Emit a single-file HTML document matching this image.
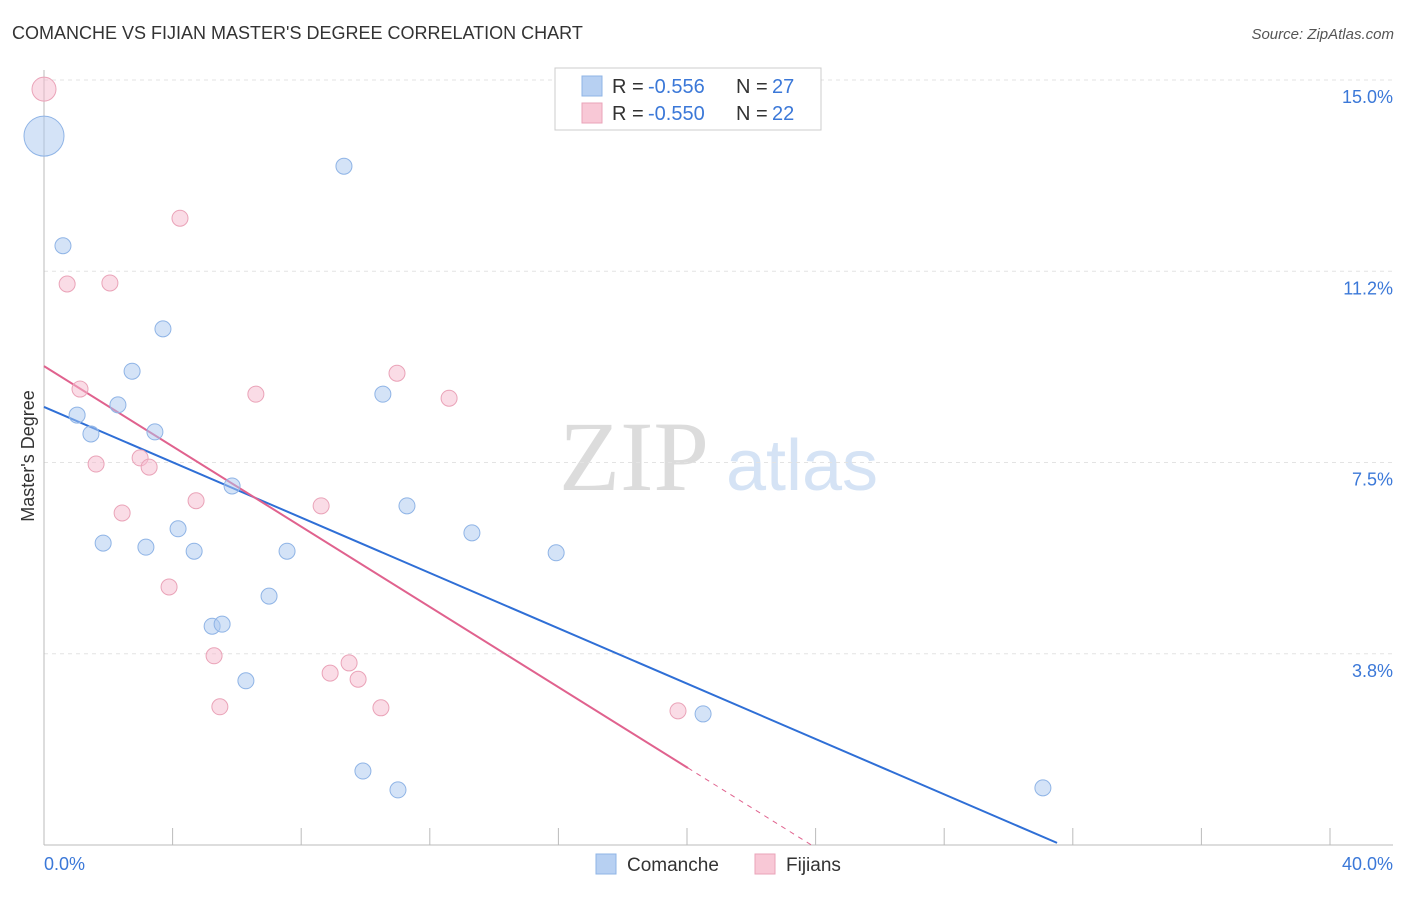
<!DOCTYPE html>
<html><head><meta charset="utf-8"><style>
body{margin:0;background:#fff;font-family:"Liberation Sans",sans-serif;}
</style></head><body>
<svg id="chart" width="1406" height="892" font-family="Liberation Sans, sans-serif">
<text x="12" y="39" font-size="18" fill="#333">COMANCHE VS FIJIAN MASTER'S DEGREE CORRELATION CHART</text>
<text x="1394" y="39" font-size="15" fill="#555" font-style="italic" text-anchor="end">Source: ZipAtlas.com</text>
<g>
<text x="634" y="490" font-size="100" fill="#dcdcdc" style="font-family:'Liberation Serif',serif" text-anchor="middle">ZIP</text>
<text x="802" y="490" font-size="72" fill="#d5e3f5" text-anchor="middle">atlas</text>
</g>
<g id="grid"></g>
<g id="axes"></g>
<g id="lines"></g>
<g id="points"></g>
<text transform="translate(34,456) rotate(-90)" font-size="18" fill="#333" text-anchor="middle">Master's Degree</text>
<text x="44" y="870" font-size="18" fill="#3b78d8">0.0%</text>
<text x="1393" y="870" font-size="18" fill="#3b78d8" text-anchor="end">40.0%</text>
<g>
<rect x="555" y="68" width="266" height="62" fill="#fff" stroke="#ccc"/>
<rect x="582" y="76" width="20" height="20" fill="#b7d0f2" stroke="#8fb4e6"/>
<text x="612" y="93" font-size="20" fill="#333">R = </text>
<text x="648" y="93" font-size="20" fill="#3b78d8">-0.556</text>
<text x="736" y="93" font-size="20" fill="#333">N = </text>
<text x="772" y="93" font-size="20" fill="#3b78d8">27</text>
<rect x="582" y="103" width="20" height="20" fill="#f8c8d6" stroke="#eaa3b8"/>
<text x="612" y="120" font-size="20" fill="#333">R = </text>
<text x="648" y="120" font-size="20" fill="#3b78d8">-0.550</text>
<text x="736" y="120" font-size="20" fill="#333">N = </text>
<text x="772" y="120" font-size="20" fill="#3b78d8">22</text>
</g>
<g>
<rect x="596" y="854" width="20" height="20" fill="#b7d0f2" stroke="#8fb4e6"/>
<text x="627" y="871" font-size="19" fill="#333">Comanche</text>
<rect x="755" y="854" width="20" height="20" fill="#f8c8d6" stroke="#eaa3b8"/>
<text x="786" y="871" font-size="19" fill="#333">Fijians</text>
</g>
</svg>
<script>
const yTicks=[3.75,7.5,11.25,15];
const yTickLabels=["3.8%","7.5%","11.2%","15.0%"];
const xTicks=[4,8,12,16,20,24,28,32,36,40];
const comancheX=[0,9.33,0.59,3.70,2.74,10.54,1.03,2.30,1.46,3.45,5.85,11.29,4.17,13.31,1.84,3.17,4.67,7.56,15.93,7.00,5.23,5.54,6.28,20.50,9.92,11.01,31.07];
const comancheY=[13.90,13.31,11.75,10.12,9.29,8.84,8.43,8.63,8.06,8.10,7.04,6.65,6.20,6.12,5.92,5.84,5.76,5.76,5.73,4.88,4.29,4.33,3.22,2.57,1.45,1.08,1.12];
const comancheR=[20,8,8,8,8,8,8,8,8,8,8,8,8,8,8,8,8,8,8,8,8,8,8,8,8,8,8];
const fijiX=[0,4.23,0.72,2.05,1.12,6.59,10.98,12.60,1.62,2.99,3.27,4.73,2.43,8.62,3.89,5.29,9.49,8.90,9.77,5.47,10.48,19.72];
const fijiY=[14.82,12.29,11.0,11.02,8.94,8.84,9.25,8.76,7.47,7.59,7.41,6.75,6.51,6.65,5.06,3.71,3.57,3.37,3.25,2.71,2.69,2.63];
const fijiR=[12,8,8,8,8,8,8,8,8,8,8,8,8,8,8,8,8,8,8,8,8,8];
const comancheTrend=[8.59,-0.2713];
const fijiTrend=[9.39,-0.3934];
const fijiSolidEnd=20.03, fijiDashEnd=23.9, comancheEnd=31.51;

const NS="http://www.w3.org/2000/svg";
const xS=v=>44+v*32.15, yS=v=>845-v*51.0;
function mk(tag,attrs,parent){const e=document.createElementNS(NS,tag);for(const k in attrs)e.setAttribute(k,attrs[k]);document.getElementById(parent).appendChild(e);return e;}
yTicks.forEach((t,i)=>{
  const g=mk('line',{x1:44,x2:1393,y1:yS(t),y2:yS(t),stroke:'#e3e3e3','stroke-dasharray':'4,4'},'grid');
  
  
  const l=mk('text',{x:1393,y:yS(t)+23,'font-size':18,fill:'#3b78d8','text-anchor':'end'},'grid');
  l.textContent=yTickLabels[i];
  
  
});
const xa=mk('line',{x1:44,x2:1393,y1:845,y2:845,stroke:'#bbb'},'axes');


const ya=mk('line',{x1:44,x2:44,y1:70,y2:845,stroke:'#bbb'},'axes');


xTicks.forEach(t=>{
  const e=mk('line',{x1:xS(t),x2:xS(t),y1:828,y2:845,stroke:'#bbb'},'axes');
  
  
});
const f=(tr,x)=>tr[0]+tr[1]*x;
let e=mk('line',{x1:xS(0),y1:yS(f(comancheTrend,0)),x2:xS(comancheEnd),y2:yS(f(comancheTrend,comancheEnd)),stroke:'#2f6fd6','stroke-width':2},'lines');


e=mk('line',{x1:xS(0),y1:yS(f(fijiTrend,0)),x2:xS(fijiSolidEnd),y2:yS(f(fijiTrend,fijiSolidEnd)),stroke:'#e0628e','stroke-width':2},'lines');


e=mk('line',{x1:xS(fijiSolidEnd),y1:yS(f(fijiTrend,fijiSolidEnd)),x2:xS(fijiDashEnd),y2:yS(f(fijiTrend,fijiDashEnd)),stroke:'#e0628e','stroke-width':1,'stroke-dasharray':'5,5'},'lines');


comancheX.forEach((x,i)=>{
  const c=mk('circle',{cx:xS(x),cy:yS(comancheY[i]),r:comancheR[i],fill:'rgba(170,200,240,0.5)',stroke:'#8fb4e6','stroke-width':1},'points');
  
  
});
fijiX.forEach((x,i)=>{
  const c=mk('circle',{cx:xS(x),cy:yS(fijiY[i]),r:fijiR[i],fill:'rgba(245,185,205,0.5)',stroke:'#eaa3b8','stroke-width':1},'points');
  
  
});
</script>
</body></html>
